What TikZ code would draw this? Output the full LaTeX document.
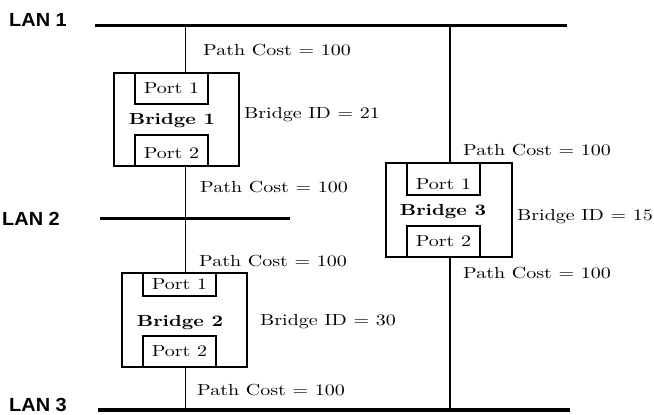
\documentclass[tikz,border=0pt]{standalone}
\usepackage{fontspec}
\setmainfont{lmroman10-regular.otf}[BoldFont=lmroman10-bold.otf]
\usepackage{graphicx}
\newfontfamily\lanfont{Liberation Sans}
\newcommand\wt[1]{\scalebox{1.25}[1]{#1}}
\newcommand\wl[1]{\scalebox{1.05}[1]{#1}}
\begin{document}
\begin{tikzpicture}[x=1pt,y=-1pt,
  lan/.style={line width=3.5pt},
  link/.style={line width=1.1pt},
  bridgebox/.style={draw,line width=1.3pt,inner sep=0pt,minimum width=#1},
  portbox/.style={draw,line width=1.1pt,inner sep=0pt,minimum width=73pt},
  lbl/.style={anchor=west,inner sep=0pt,font=\fontsize{16}{19}\selectfont},
  btxt/.style={inner sep=0pt,font=\fontsize{16}{19}\selectfont\bfseries},
  ptxt/.style={inner sep=0pt,font=\fontsize{16}{19}\selectfont},
  lanlbl/.style={anchor=west,inner sep=0pt,font=\lanfont\bfseries\fontsize{19}{22}\selectfont}]
\useasboundingbox (0,0) rectangle (654,415);
% LAN labels
\node[lanlbl] (lan1t) at (9,20) {\wl{LAN 1}};
\node[lanlbl] (lan2t) at (2,219) {\wl{LAN 2}};
\node[lanlbl] (lan3t) at (9,405) {\wl{LAN 3}};
% LAN lines
\coordinate (l1s) at (95,25.5);
\coordinate (l1e) at (567,25.5);
\coordinate (l2s) at (100,218.5);
\coordinate (l2e) at (290,218.5);
\coordinate (l3s) at (98,410);
\coordinate (l3e) at (570,410);
\draw[lan] (l1s) -- (l1e);
\draw[lan] (l2s) -- (l2e);
\draw[lan] (l3s) -- (l3e);
% Bridge 1
\node[bridgebox=125pt,minimum height=93pt] (b1) at (176.5,119.5) {};
\node[portbox,minimum height=31pt] (b1p1) at (171.5,88.5) {};
\node[portbox,minimum height=31pt] (b1p2) at (171.5,150.5) {};
\node[ptxt] (b1p1t) at (b1p1) {\wt{Port 1}};
\node[ptxt] (b1p2t) at (171.5,153) {\wt{Port 2}};
\node[btxt] (b1t) at (172,121) {\wt{Bridge 1}};
% Bridge 2
\node[bridgebox=125pt,minimum height=94pt] (b2) at (184.5,320) {};
\node[portbox,minimum height=23pt] (b2p1) at (179.5,284.5) {};
\node[portbox,minimum height=31pt] (b2p2) at (179.5,351.5) {};
\node[ptxt] (b2p1t) at (b2p1) {\wt{Port 1}};
\node[ptxt] (b2p2t) at (b2p2) {\wt{Port 2}};
\node[btxt] (b2t) at (180,323) {\wt{Bridge 2}};
% Bridge 3
\node[bridgebox=126pt,minimum height=94pt] (b3) at (449,210) {};
\node[portbox,minimum height=32pt] (b3p1) at (443.5,179) {};
\node[portbox,minimum height=31pt] (b3p2) at (443.5,241.5) {};
\node[ptxt] (b3p1t) at (443.5,184) {\wt{Port 1}};
\node[ptxt] (b3p2t) at (b3p2) {\wt{Port 2}};
\node[btxt] (b3t) at (443,212) {\wt{Bridge 3}};
% Links
\coordinate (x1) at (185.5,0);
\coordinate (x3) at (450,0);
\draw[link] (l1s -| x1) -- (b1.north -| x1);
\draw[link] (b1.south -| x1) -- (b2.north -| x1);
\draw[link] (b2.south -| x1) -- (l3s -| x1);
\draw[link] (l1s -| x3) -- (b3.north -| x3);
\draw[link] (b3.south -| x3) -- (l3s -| x3);
% Labels
\node[lbl] (pc1) at (203,50) {\wt{Path Cost = 100}};
\node[lbl] (id1) at (244,115) {\wt{Bridge ID = 21}};
\node[lbl] (pc2) at (200,187) {\wt{Path Cost = 100}};
\node[lbl] (pc3) at (199,261) {\wt{Path Cost = 100}};
\node[lbl] (id2) at (260,322) {\wt{Bridge ID = 30}};
\node[lbl] (pc4) at (197,390) {\wt{Path Cost = 100}};
\node[lbl] (pc5) at (463,150) {\wt{Path Cost = 100}};
\node[lbl] (id3) at (517,217) {\wt{Bridge ID = 15}};
\node[lbl] (pc6) at (463,273) {\wt{Path Cost = 100}};
\end{tikzpicture}
\end{document}
